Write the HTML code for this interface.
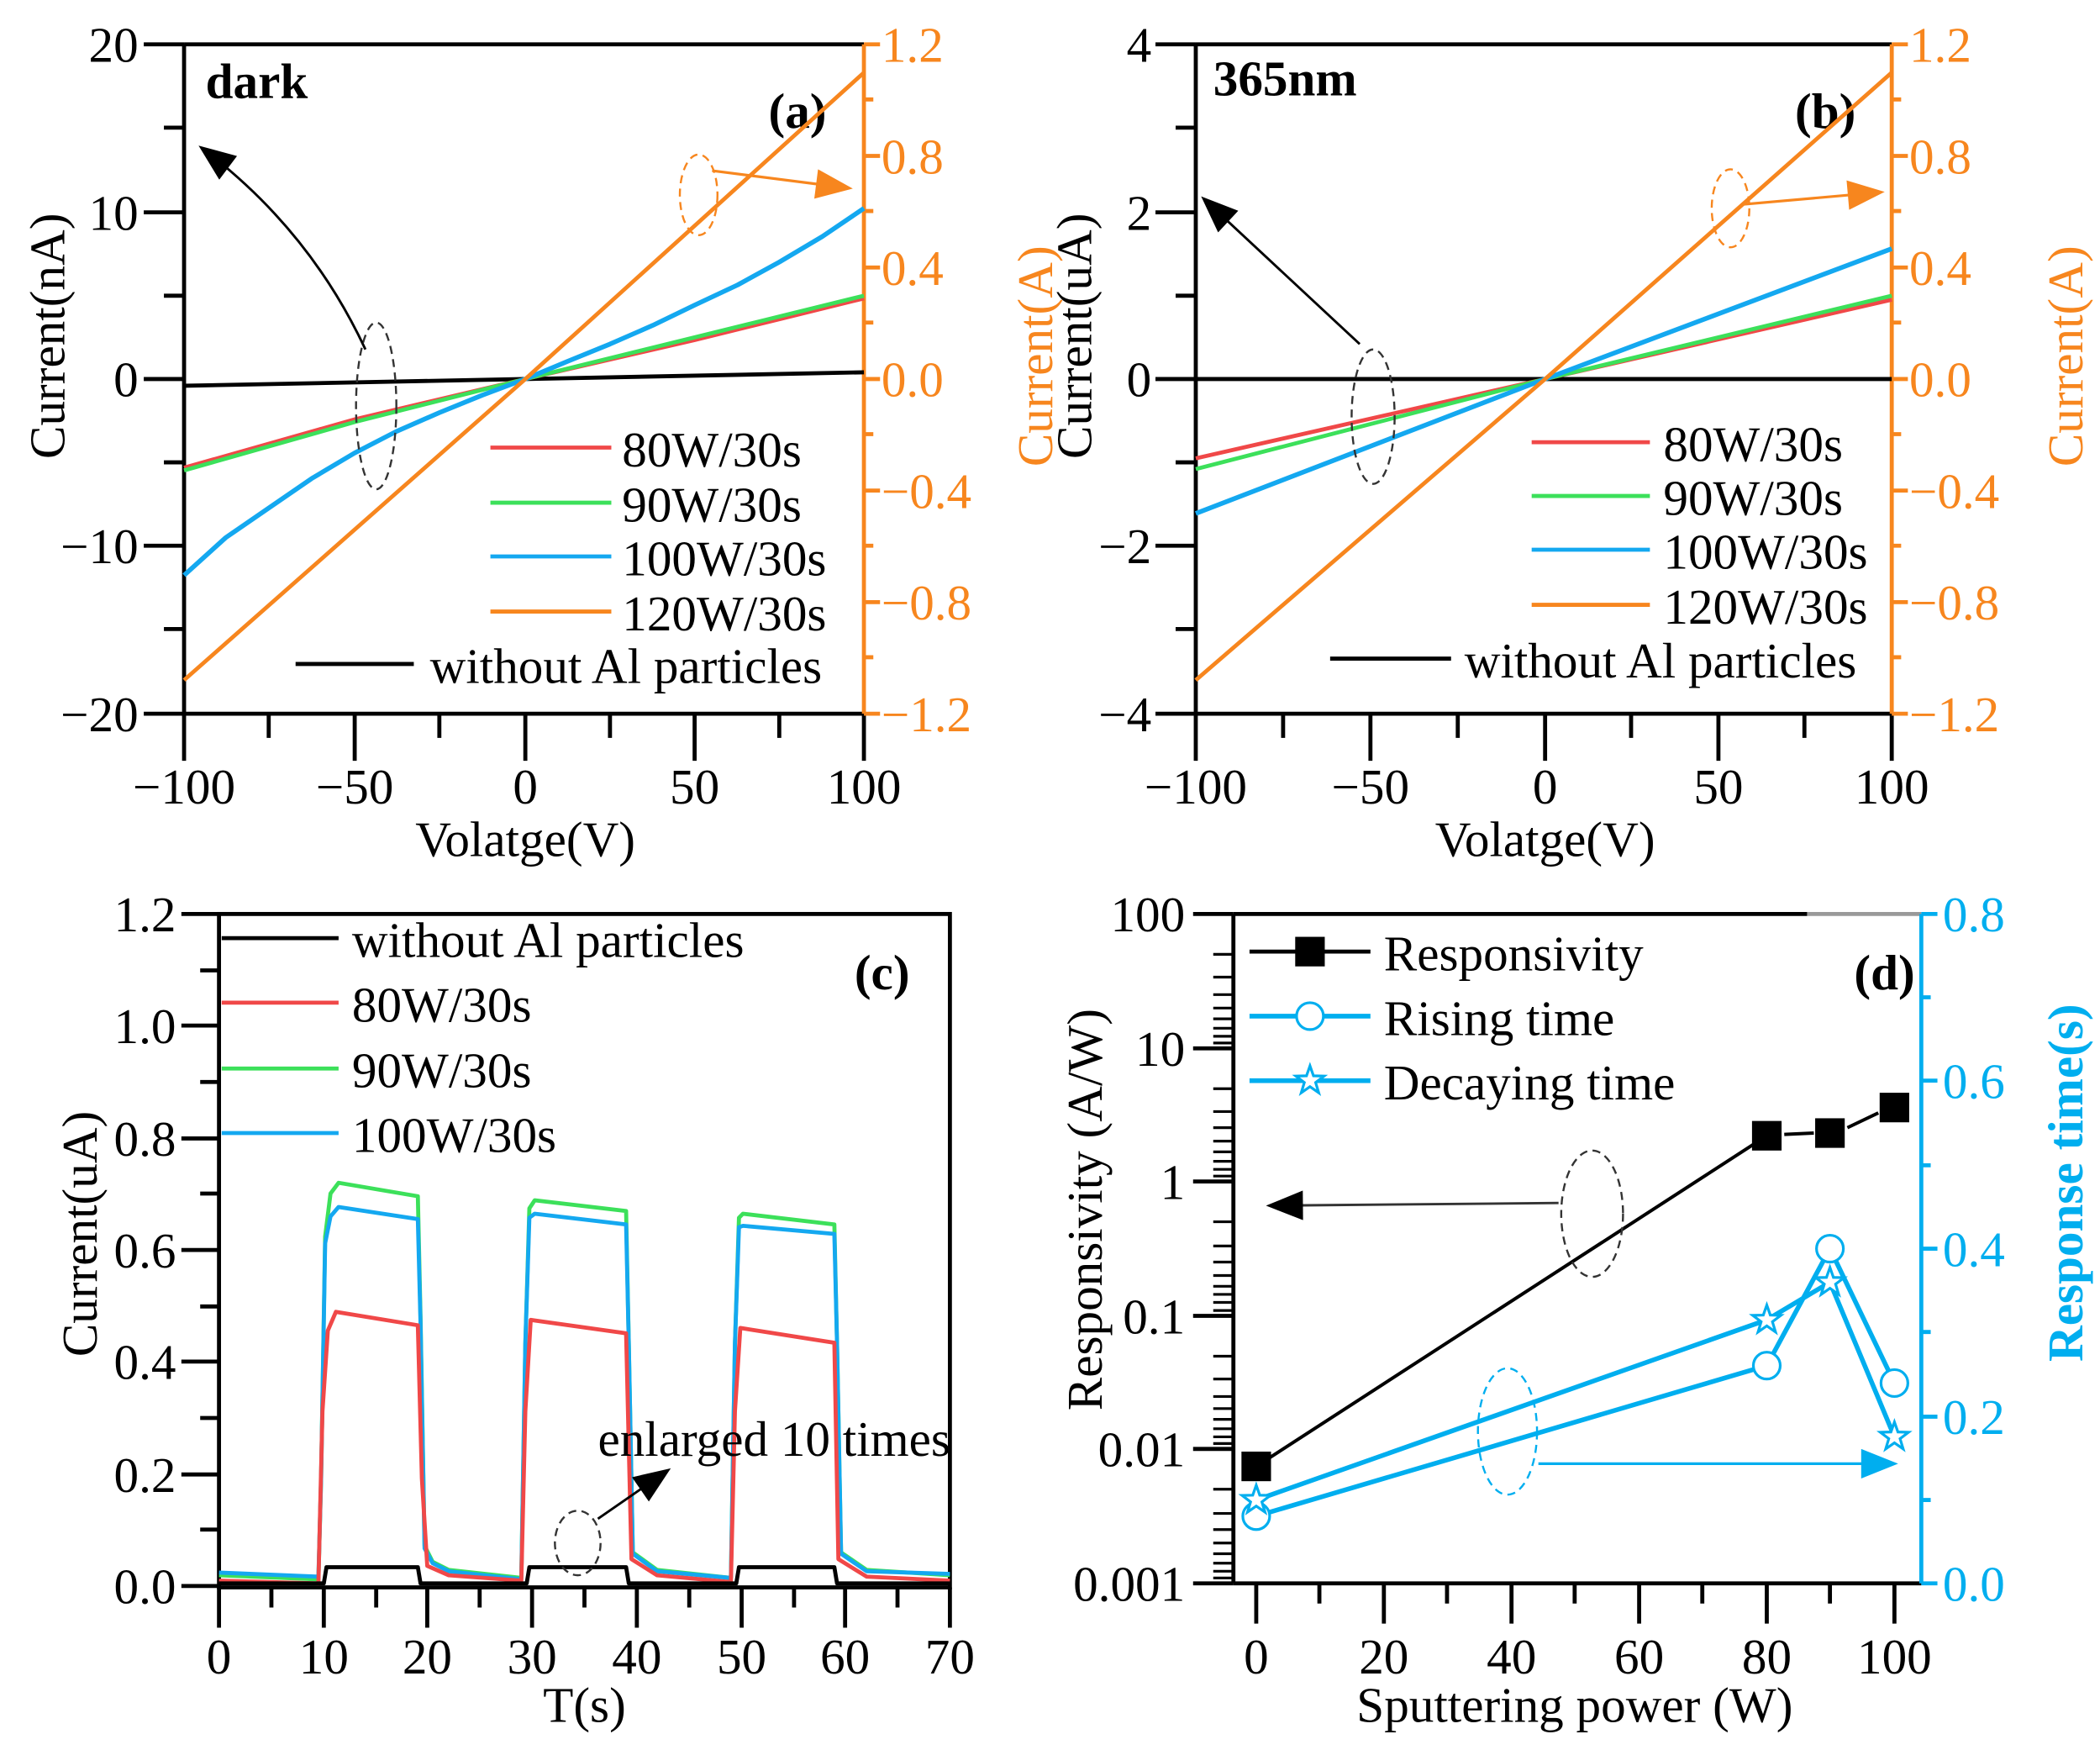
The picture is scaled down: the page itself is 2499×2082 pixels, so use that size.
<!DOCTYPE html>
<html><head><meta charset="utf-8"><style>
html,body{margin:0;padding:0;background:#fff}
svg{display:block}
text{font-family:"Liberation Serif",serif;font-size:37px}
</style></head><body>
<svg width="2499" height="2082" viewBox="0 0 1563 1302" preserveAspectRatio="none" xmlns="http://www.w3.org/2000/svg">
<defs>
<marker id="ahk" viewBox="0 0 10 8" refX="9" refY="4" markerWidth="34" markerHeight="22" orient="auto" markerUnits="userSpaceOnUse"><path d="M0,0 L10,4 L0,8z" fill="#000"/></marker>
<marker id="aho" viewBox="0 0 10 8" refX="9" refY="4" markerWidth="36" markerHeight="22" orient="auto" markerUnits="userSpaceOnUse"><path d="M0,0 L10,4 L0,8z" fill="#f7861e"/></marker>
<marker id="ahc" viewBox="0 0 10 8" refX="9" refY="4" markerWidth="36" markerHeight="22" orient="auto" markerUnits="userSpaceOnUse"><path d="M0,0 L10,4 L0,8z" fill="#00aeef"/></marker>
<symbol id="star" viewBox="-12 -12 24 24" overflow="visible"><path d="M0,-11 L2.6,-3.6 L10.5,-3.4 L4.2,1.4 L6.5,9 L0,4.5 L-6.5,9 L-4.2,1.4 L-10.5,-3.4 L-2.6,-3.6Z" fill="#fff" stroke="#00aeef" stroke-width="2"/></symbol>
</defs>

<!-- ================= PANEL A ================= -->
<g stroke="#000" stroke-width="3" fill="none">
<line x1="137" y1="33" x2="643" y2="33"/>
<line x1="137" y1="33" x2="137" y2="531"/>
<line x1="137" y1="531" x2="643" y2="531"/>
<path d="M107,33h30M107,158h30M107,282h30M107,406h30M107,531h30M122,95h15M122,220h15M122,344h15M122,468h15"/>
<path d="M137,531v35M264,531v35M391,531v35M517,531v35M643,531v35M200,531v18M327,531v18M454,531v18M580,531v18"/>
</g>
<g stroke="#f7861e" stroke-width="3" fill="none">
<line x1="643" y1="33" x2="643" y2="531"/>
<path d="M643,33h12M643,116h12M643,199h12M643,282h12M643,365h12M643,448h12M643,531h12M643,74h7M643,157h7M643,240h7M643,323h7M643,406h7M643,489h7"/>
</g>
<g text-anchor="end">
<text x="103" y="46">20</text><text x="103" y="171">10</text><text x="103" y="295">0</text><text x="103" y="419">−10</text><text x="103" y="544">−20</text>
</g>
<g fill="#f7861e"><text x="656" y="46">1.2</text><text x="656" y="129">0.8</text><text x="656" y="212">0.4</text><text x="656" y="295">0.0</text><text x="656" y="378">−0.4</text><text x="656" y="461">−0.8</text><text x="656" y="544">−1.2</text></g>
<g text-anchor="middle"><text x="137" y="598">−100</text><text x="264" y="598">−50</text><text x="391" y="598">0</text><text x="517" y="598">50</text><text x="643" y="598">100</text>
<text x="391" y="637">Volatge(V)</text></g>
<text transform="translate(48,250) rotate(-90)" text-anchor="middle">Current(nA)</text>
<text transform="translate(783,265) rotate(-90)" text-anchor="middle" fill="#f7861e">Current(A)</text>
<text x="153" y="73" font-weight="bold" font-size="32">dark</text>
<text x="572" y="95" font-weight="bold" font-size="46">(a)</text>
<g fill="none" stroke-width="3">
<polyline stroke="#000" points="137,287 643,277"/>
<polyline stroke="#f04848" points="137,348 264,312 391,282 517,253 643,222"/>
<polyline stroke="#3ce05a" points="137,350 264,314 391,282 517,251 643,220"/>
<polyline stroke="#14a8f0" stroke-width="3.5" stroke-linejoin="round" points="137,428 168,400 200,378 232,356 264,337 295,321 327,307 359,294 391,282 422,269 454,256 486,242 517,227 549,212 580,195 612,176 643,155"/>
<polyline stroke="#f7861e" points="137,506 391,282 643,54"/>
</g>
<g stroke-width="3"><line x1="365" y1="333" x2="455" y2="333" stroke="#f04848"/><line x1="365" y1="374" x2="455" y2="374" stroke="#3ce05a"/><line x1="365" y1="414" x2="455" y2="414" stroke="#14a8f0"/><line x1="365" y1="455" x2="455" y2="455" stroke="#f7861e"/><line x1="220" y1="494" x2="308" y2="494" stroke="#000"/></g>
<text x="463" y="347">80W/30s</text><text x="463" y="388">90W/30s</text><text x="463" y="428">100W/30s</text><text x="463" y="469">120W/30s</text><text x="320" y="508">without Al particles</text>
<ellipse cx="280" cy="302" rx="15" ry="62" fill="none" stroke="#333" stroke-width="1.5" stroke-dasharray="6,4"/>
<path d="M272,260 Q230,170 150,110" fill="none" stroke="#000" stroke-width="1.8" marker-end="url(#ahk)"/>
<ellipse cx="520" cy="145" rx="14" ry="30" fill="none" stroke="#f7861e" stroke-width="1.5" stroke-dasharray="6,4"/>
<line x1="530" y1="127" x2="632" y2="140" stroke="#f7861e" stroke-width="2" marker-end="url(#aho)"/>

<!-- ================= PANEL B ================= -->
<g stroke="#000" stroke-width="3" fill="none">
<line x1="890" y1="33" x2="1408" y2="33"/>
<line x1="890" y1="33" x2="890" y2="531"/>
<line x1="890" y1="531" x2="1408" y2="531"/>
<path d="M860,33h30M860,158h30M860,282h30M860,406h30M860,531h30M875,95h15M875,220h15M875,344h15M875,468h15"/>
<path d="M890,531v35M1020,531v35M1150,531v35M1279,531v35M1408,531v35M955,531v18M1085,531v18M1214,531v18M1343,531v18"/>
</g>
<g stroke="#f7861e" stroke-width="3" fill="none">
<line x1="1408" y1="33" x2="1408" y2="531"/>
<path d="M1408,33h12M1408,116h12M1408,199h12M1408,282h12M1408,365h12M1408,448h12M1408,531h12M1408,74h7M1408,157h7M1408,240h7M1408,323h7M1408,406h7M1408,489h7"/>
</g>
<g text-anchor="end"><text x="857" y="46">4</text><text x="857" y="171">2</text><text x="857" y="295">0</text><text x="857" y="419">−2</text><text x="857" y="544">−4</text></g>
<g fill="#f7861e"><text x="1421" y="46">1.2</text><text x="1421" y="129">0.8</text><text x="1421" y="212">0.4</text><text x="1421" y="295">0.0</text><text x="1421" y="378">−0.4</text><text x="1421" y="461">−0.8</text><text x="1421" y="544">−1.2</text></g>
<g text-anchor="middle"><text x="890" y="598">−100</text><text x="1020" y="598">−50</text><text x="1150" y="598">0</text><text x="1279" y="598">50</text><text x="1408" y="598">100</text>
<text x="1150" y="637">Volatge(V)</text></g>
<text transform="translate(812,250) rotate(-90)" text-anchor="middle">Current(uA)</text>
<text transform="translate(1550,265) rotate(-90)" text-anchor="middle" fill="#f7861e">Current(A)</text>
<text x="903" y="71" font-weight="bold" font-size="32">365nm</text>
<text x="1336" y="95" font-weight="bold" font-size="46">(b)</text>
<g fill="none" stroke-width="3">
<polyline stroke="#000" points="890,282 1408,282"/>
<polyline stroke="#f04848" points="890,341 1150,282 1408,223"/>
<polyline stroke="#3ce05a" points="890,349 1150,282 1408,220"/>
<polyline stroke="#14a8f0" stroke-width="3.5" points="890,382 1150,282 1408,185"/>
<polyline stroke="#f7861e" points="890,506 1150,282 1408,54"/>
</g>
<g stroke-width="3"><line x1="1140" y1="329" x2="1228" y2="329" stroke="#f04848"/><line x1="1140" y1="369" x2="1228" y2="369" stroke="#3ce05a"/><line x1="1140" y1="409" x2="1228" y2="409" stroke="#14a8f0"/><line x1="1140" y1="450" x2="1228" y2="450" stroke="#f7861e"/><line x1="990" y1="490" x2="1080" y2="490" stroke="#000"/></g>
<text x="1238" y="343">80W/30s</text><text x="1238" y="383">90W/30s</text><text x="1238" y="423">100W/30s</text><text x="1238" y="464">120W/30s</text><text x="1090" y="504">without Al particles</text>
<ellipse cx="1022" cy="310" rx="16" ry="50" fill="none" stroke="#333" stroke-width="1.5" stroke-dasharray="6,4"/>
<line x1="1012" y1="256" x2="896" y2="148" stroke="#000" stroke-width="1.8" marker-end="url(#ahk)"/>
<ellipse cx="1288" cy="155" rx="14" ry="29" fill="none" stroke="#f7861e" stroke-width="1.5" stroke-dasharray="6,4"/>
<line x1="1298" y1="152" x2="1400" y2="143" stroke="#f7861e" stroke-width="2" marker-end="url(#aho)"/>

<!-- ================= PANEL C ================= -->
<g stroke="#000" stroke-width="3" fill="none">
<rect x="163" y="680" width="544" height="501"/>
<path d="M135,680h28M135,763h28M135,847h28M135,930h28M135,1013h28M135,1097h28M135,1180h28M149,722h14M149,805h14M149,888h14M149,972h14M149,1055h14M149,1138h14"/>
<path d="M163,1181v30M241,1181v30M318,1181v30M396,1181v30M474,1181v30M552,1181v30M629,1181v30M707,1181v30M202,1181v15M280,1181v15M357,1181v15M435,1181v15M513,1181v15M591,1181v15M668,1181v15"/>
</g>
<g text-anchor="end"><text x="131" y="693">1.2</text><text x="131" y="776">1.0</text><text x="131" y="860">0.8</text><text x="131" y="943">0.6</text><text x="131" y="1026">0.4</text><text x="131" y="1110">0.2</text><text x="131" y="1193">0.0</text></g>
<g text-anchor="middle"><text x="163" y="1245">0</text><text x="241" y="1245">10</text><text x="318" y="1245">20</text><text x="396" y="1245">30</text><text x="474" y="1245">40</text><text x="552" y="1245">50</text><text x="629" y="1245">60</text><text x="707" y="1245">70</text>
<text x="435" y="1281">T(s)</text></g>
<text transform="translate(72,918) rotate(-90)" text-anchor="middle">Current(uA)</text>
<text x="636" y="736" font-weight="bold" font-size="46">(c)</text>
<g fill="none" stroke-width="3" stroke-linejoin="round">
<path stroke="#3ce05a" d="M163,1172 L237,1175 L239,1100 L242,920 L246,888 L252,880 L311,890 L313,980 L316,1150 L322,1162 L334,1168 L388,1174 L391,1000 L394,899 L398,893 L466,901 L468,1000 L471,1155 L489,1168 L544,1174 L547,1000 L550,906 L553,903 L621,911 L623,1000 L626,1155 L645,1168 L707,1172"/>
<path stroke="#14a8f0" d="M163,1170 L237,1173 L239,1100 L242,925 L246,905 L252,898 L311,907 L313,985 L316,1152 L322,1163 L334,1169 L388,1175 L391,1000 L394,906 L398,903 L466,911 L468,1000 L471,1156 L489,1169 L544,1174 L547,1000 L550,913 L553,912 L621,918 L623,1000 L626,1156 L645,1169 L707,1171"/>
<path stroke="#f04848" d="M163,1176 L237,1178 L240,1050 L244,990 L250,976 L311,986 L314,1100 L318,1165 L334,1172 L388,1176 L391,1050 L395,982 L466,992 L470,1160 L489,1172 L544,1177 L547,1050 L551,988 L621,999 L624,1160 L645,1173 L707,1176"/>
<path stroke="#000" d="M163,1178 L241,1178 L243,1166 L311,1166 L313,1178 L392,1178 L394,1166 L466,1166 L468,1178 L548,1178 L550,1166 L621,1166 L623,1178 L707,1178"/>
</g>
<g stroke-width="3"><line x1="165" y1="698" x2="252" y2="698" stroke="#000"/><line x1="165" y1="746" x2="252" y2="746" stroke="#f04848"/><line x1="165" y1="795" x2="252" y2="795" stroke="#3ce05a"/><line x1="165" y1="843" x2="252" y2="843" stroke="#14a8f0"/></g>
<text x="262" y="712">without Al particles</text><text x="262" y="760">80W/30s</text><text x="262" y="809">90W/30s</text><text x="262" y="857">100W/30s</text>
<text x="445" y="1083" font-size="34">enlarged 10 times</text>
<ellipse cx="430" cy="1148" rx="17" ry="24" fill="none" stroke="#333" stroke-width="1.5" stroke-dasharray="6,4"/>
<line x1="445" y1="1130" x2="497" y2="1094" stroke="#000" stroke-width="1.8" marker-end="url(#ahk)"/>

<!-- ================= PANEL D ================= -->
<g stroke="#000" stroke-width="3" fill="none">
<line x1="918" y1="680" x2="1345" y2="680"/>
<line x1="918" y1="680" x2="918" y2="1178"/>
<line x1="918" y1="1178" x2="1430" y2="1178"/>
<path d="M888,680h30M888,780h30M888,879h30M888,979h30M888,1078h30M888,1178h30"/>
<path stroke-width="2" d="M903,710h15M903,727h15M903,740h15M903,750h15M903,758h15M903,765h15M903,771h15M903,776h15
M903,810h15M903,827h15M903,839h15M903,849h15M903,857h15M903,864h15M903,870h15M903,875h15
M903,909h15M903,927h15M903,939h15M903,949h15M903,957h15M903,963h15M903,969h15M903,975h15
M903,1009h15M903,1026h15M903,1039h15M903,1048h15M903,1056h15M903,1063h15M903,1069h15M903,1074h15
M903,1108h15M903,1126h15M903,1138h15M903,1148h15M903,1156h15M903,1163h15M903,1169h15M903,1174h15"/>
<path d="M935,1178v30M1030,1178v30M1125,1178v30M1220,1178v30M1315,1178v30M1410,1178v30M982,1178v15M1077,1178v15M1172,1178v15M1267,1178v15M1362,1178v15"/>
</g>
<line x1="1345" y1="680" x2="1430" y2="680" stroke="#999" stroke-width="3"/>
<g stroke="#00aeef" stroke-width="3" fill="none">
<line x1="1430" y1="680" x2="1430" y2="1178"/>
<path d="M1430,680h12M1430,804h12M1430,929h12M1430,1054h12M1430,1178h12M1430,742h7M1430,867h7M1430,991h7M1430,1116h7"/>
</g>
<g text-anchor="end"><text x="882" y="693">100</text><text x="882" y="793">10</text><text x="882" y="892">1</text><text x="882" y="992">0.1</text><text x="882" y="1091">0.01</text><text x="882" y="1191">0.001</text></g>
<g fill="#00aeef"><text x="1446" y="693">0.8</text><text x="1446" y="817">0.6</text><text x="1446" y="942">0.4</text><text x="1446" y="1067">0.2</text><text x="1446" y="1191">0.0</text></g>
<g text-anchor="middle"><text x="935" y="1245">0</text><text x="1030" y="1245">20</text><text x="1125" y="1245">40</text><text x="1220" y="1245">60</text><text x="1315" y="1245">80</text><text x="1410" y="1245">100</text>
<text x="1172" y="1281">Sputtering power (W)</text></g>
<text transform="translate(820,900) rotate(-90)" text-anchor="middle">Responsivity (A/W)</text>
<text transform="translate(1550,880) rotate(-90)" text-anchor="middle" fill="#00aeef" font-weight="bold">Response time(s)</text>
<text x="1380" y="736" font-weight="bold" font-size="46">(d)</text>
<g fill="none" stroke-width="2.5">
<line x1="935" y1="1091" x2="1315" y2="845" stroke="#000"/>
<line x1="1328" y1="844" x2="1350" y2="843" stroke="#000"/>
<line x1="1375" y1="839" x2="1398" y2="828" stroke="#000"/>
</g>
<g fill="none" stroke="#00aeef" stroke-width="3.5">
<polyline points="935,1128 1315,1016 1362,929 1410,1029"/>
<polyline points="935,1116 1315,982 1362,954 1410,1069"/>
</g>
<g fill="#000"><rect x="924" y="1080" width="22" height="22"/><rect x="1304" y="834" width="22" height="22"/><rect x="1351" y="832" width="22" height="22"/><rect x="1399" y="813" width="22" height="22"/></g>
<g fill="#fff" stroke="#00aeef" stroke-width="2"><circle cx="935" cy="1128" r="10"/><circle cx="1315" cy="1016" r="10"/><circle cx="1362" cy="929" r="10"/><circle cx="1410" cy="1029" r="10"/></g>
<use href="#star" x="923" y="1104" width="24" height="24"/>
<use href="#star" x="1303" y="970" width="24" height="24"/>
<use href="#star" x="1350" y="942" width="24" height="24"/>
<use href="#star" x="1398" y="1057" width="24" height="24"/>
<line x1="930" y1="708" x2="1020" y2="708" stroke="#000" stroke-width="3"/><rect x="964" y="697" width="22" height="22" fill="#000"/>
<line x1="930" y1="756" x2="1020" y2="756" stroke="#00aeef" stroke-width="3.5"/><circle cx="975" cy="756" r="10" fill="#fff" stroke="#00aeef" stroke-width="2"/>
<line x1="930" y1="804" x2="1020" y2="804" stroke="#00aeef" stroke-width="3.5"/><use href="#star" x="963" y="792" width="24" height="24"/>
<text x="1030" y="722">Responsivity</text><text x="1030" y="770">Rising time</text><text x="1030" y="818">Decaying time</text>
<ellipse cx="1185" cy="903" rx="23" ry="47" fill="none" stroke="#333" stroke-width="1.5" stroke-dasharray="6,4"/>
<line x1="1160" y1="895" x2="945" y2="897" stroke="#333" stroke-width="1.8" marker-end="url(#ahk)"/>
<ellipse cx="1122" cy="1065" rx="22" ry="47" fill="none" stroke="#00aeef" stroke-width="1.5" stroke-dasharray="6,4"/>
<line x1="1145" y1="1089" x2="1410" y2="1089" stroke="#00aeef" stroke-width="2" marker-end="url(#ahc)"/>
</svg>
</body></html>
